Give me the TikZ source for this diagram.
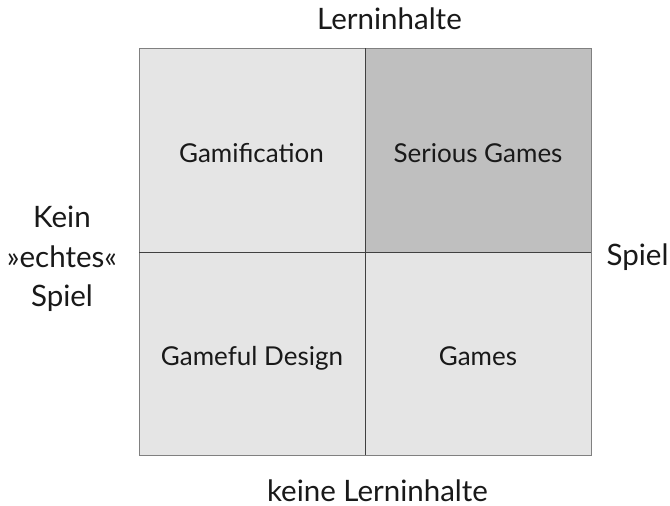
\documentclass[tikz,border=0pt]{standalone}
\usepackage{fontspec}
\setmainfont{Lato}
\begin{document}
\begin{tikzpicture}[x=1pt,y=-1pt,
  lbl/.style={font=\fontsize{26}{32}\selectfont, text=black!90, inner sep=0pt, anchor=base},
  outer/.style={lbl, font=\fontsize{29.5}{39.5}\selectfont},
  cell/.style={draw=black!75, line width=1pt}]
\useasboundingbox (0,0) rectangle (670,506);
\fill[white] (0,0) rectangle (670,506);
\fill[black!10] (139,48) rectangle (591,455);
\fill[black!25] (365,48) rectangle (591,252);
\draw[black!50, line width=1pt] (139,48) rectangle (591,455);
\coordinate (mt) at (365,48);
\coordinate (mb) at (365,455);
\coordinate (ml) at (139,252);
\coordinate (mr) at (591,252);
\draw[cell] (mt) -- (mb);
\draw[cell] (ml) -- (mr);
\node[outer] (top) at (389.5,30) {Lerninhalte};
\node[outer, text depth=0pt] (bot) at (377.5,501) {keine Lerninhalte};
\node[lbl] (gam) at (251.5,162) {Gamification};
\node[lbl] (ser) at (478,162) {Serious Games};
\node[lbl] (gfd) at (252,365) {Gameful Design};
\node[lbl] (gms) at (478,365) {Games};
\node[outer, align=center, anchor=north] (left) at (62,206) {Kein\\»echtes«\\Spiel};
\node[outer] (right) at (637.5,265) {Spiel};
\end{tikzpicture}
\end{document}
